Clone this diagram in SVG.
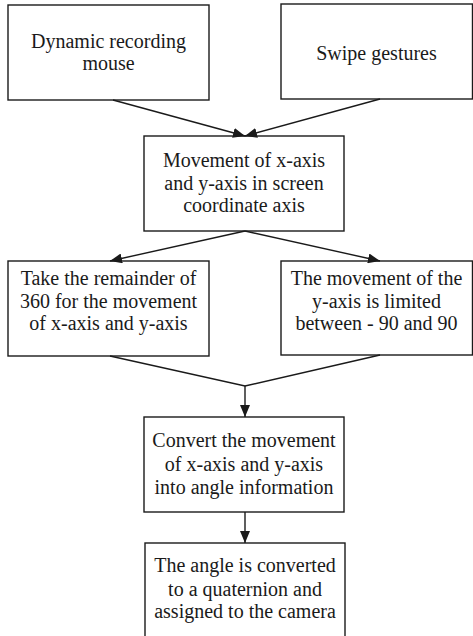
<svg xmlns="http://www.w3.org/2000/svg" width="473" height="636" viewBox="0 0 473 636">
<style>
.box{fill:#fff;stroke:#1a1a1a;stroke-width:1.4}
.t{font-family:"Liberation Serif","Times New Roman",serif;font-size:20px;fill:#1a1a1a;text-anchor:middle}
.c{fill:none;stroke:#1a1a1a;stroke-width:1.4}
</style>
<defs>
<marker id="ah" viewBox="0 0 12 10" refX="12" refY="5" markerWidth="12" markerHeight="10" markerUnits="userSpaceOnUse" orient="auto">
<path d="M0,0 L12,5 L0,10 Z" fill="#1a1a1a"/>
</marker>
</defs>
<rect width="473" height="636" fill="#fff"/>
<g id="n1"><rect class="box" x="8" y="5" width="201" height="95"/>
<text class="t" x="108.5" y="48">Dynamic recording</text><text class="t" x="108.5" y="70">mouse</text></g>
<g id="n2"><rect class="box" x="281" y="4" width="191.5" height="95"/>
<text class="t" x="376.5" y="60">Swipe gestures</text></g>
<g id="n3"><rect class="box" x="144" y="136" width="200" height="95"/>
<text class="t" x="244" y="167">Movement of x-axis</text><text class="t" x="244" y="189.5">and y-axis in screen</text><text class="t" x="244" y="212">coordinate axis</text></g>
<g id="n4"><rect class="box" x="8" y="261" width="201" height="95"/>
<text class="t" x="108.5" y="285">Take the remainder of</text><text class="t" x="108.5" y="307.5">360 for the movement</text><text class="t" x="108.5" y="330">of x-axis and y-axis</text></g>
<g id="n5"><rect class="box" x="281" y="261" width="191.5" height="94"/>
<text class="t" x="376.5" y="285">The movement of the</text><text class="t" x="376.5" y="307.5">y-axis is limited</text><text class="t" x="376.5" y="330">between - 90 and 90</text></g>
<g id="n6"><rect class="box" x="144" y="417" width="200" height="95"/>
<text class="t" x="244" y="447">Convert the movement</text><text class="t" x="244" y="471">of x-axis and y-axis</text><text class="t" x="244" y="494">into angle information</text></g>
<g id="n7"><rect class="box" x="145" y="543" width="200" height="100"/>
<text class="t" x="245" y="572">The angle is converted</text><text class="t" x="245" y="596">to a quaternion and</text><text class="t" x="245" y="618">assigned to the camera</text></g>
<g id="connectors">
<line class="c" x1="113" y1="100" x2="245" y2="136" marker-end="url(#ah)"/>
<line class="c" x1="380" y1="99" x2="245" y2="136" marker-end="url(#ah)"/>
<line class="c" x1="245" y1="231" x2="110" y2="261" marker-end="url(#ah)"/>
<line class="c" x1="245" y1="231" x2="380" y2="261" marker-end="url(#ah)"/>
<polyline class="c" points="110,356 245,386 380,355"/>
<line class="c" x1="245" y1="386" x2="245" y2="417" marker-end="url(#ah)"/>
<line class="c" x1="245" y1="512" x2="245" y2="543" marker-end="url(#ah)"/>
</g>
</svg>
